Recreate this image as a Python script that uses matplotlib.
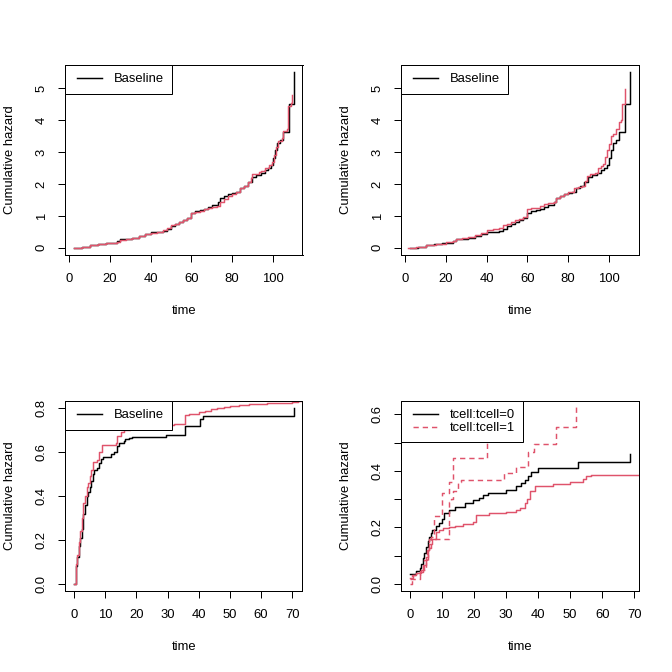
import matplotlib
matplotlib.use('Agg')
import matplotlib.pyplot as plt

plt.rcParams['font.family'] = ['Liberation Sans', 'DejaVu Sans']
plt.rcParams['font.size'] = 9.75

RED = '#DF536B'

# ---- panel 1 / 2: baseline cumulative hazard (black) ----
base_t = [2.3, 6, 10, 14, 18, 21, 23.5, 25, 28, 31, 34, 37, 40, 43, 46, 48, 50, 52,
          54, 56, 58, 60, 62, 64, 66, 68, 70, 73, 74, 76, 78, 80, 82, 84, 86, 88,
          90, 92, 94, 96, 97.5, 99, 100, 101, 102, 103.5, 105, 108, 110.3]
base_h = [0, 0.04, 0.08, 0.11, 0.14, 0.16, 0.20, 0.26, 0.29, 0.31, 0.36, 0.42, 0.48,
          0.51, 0.54, 0.60, 0.68, 0.75, 0.80, 0.86, 0.92, 1.10, 1.15, 1.17, 1.22, 1.27,
          1.33, 1.45, 1.55, 1.62, 1.70, 1.73, 1.75, 1.88, 1.95, 2.05, 2.22, 2.27, 2.35,
          2.43, 2.50, 2.60, 2.80, 3.05, 3.30, 3.37, 3.63, 4.50, 5.50]

# panel 1 red curve
fit1_t = [2.3, 6, 10, 14, 18, 21, 23.5, 25, 28, 31, 34, 37, 40, 43, 46, 48, 50, 52,
          54, 56, 58, 60, 62, 64, 66, 68, 70, 72.5, 74, 76, 78, 80, 82, 84, 86, 88,
          89.5, 90, 93, 94, 96, 98, 99.5, 100.5, 101.5, 102.5, 104.5, 105, 107,
          107.5, 109, 109.6]
fit1_h = [0, 0.04, 0.08, 0.11, 0.14, 0.16, 0.19, 0.25, 0.28, 0.31, 0.36, 0.42, 0.47,
          0.50, 0.55, 0.62, 0.70, 0.76, 0.81, 0.86, 0.92, 1.08, 1.13, 1.16, 1.20, 1.24,
          1.28, 1.30, 1.42, 1.52, 1.62, 1.70, 1.76, 1.87, 1.95, 2.05, 2.20, 2.32, 2.37,
          2.42, 2.50, 2.58, 2.70, 2.90, 3.15, 3.35, 3.45, 3.65, 3.72, 4.45, 4.55, 4.80]

# panel 2 red curve
fit2_t = [1.5, 5, 10, 15, 20, 23.5, 25, 28, 31, 34, 37, 40, 43, 46, 48, 50, 52, 54,
          56, 58, 60, 62, 64, 66, 68, 70, 73, 74, 76, 78, 80, 82, 83, 85, 87, 88.5,
          89.5, 91, 93, 94.5, 96, 97, 98, 99, 100, 101, 102, 103.5, 105, 106, 106.6,
          108.2]
fit2_h = [0, 0.04, 0.09, 0.13, 0.17, 0.20, 0.27, 0.30, 0.33, 0.40, 0.46, 0.55, 0.58,
          0.62, 0.70, 0.76, 0.81, 0.86, 0.91, 0.98, 1.20, 1.24, 1.26, 1.30, 1.36, 1.40,
          1.43, 1.57, 1.62, 1.70, 1.74, 1.76, 1.88, 1.92, 1.95, 2.10, 2.24, 2.30, 2.34,
          2.50, 2.55, 2.62, 2.85, 3.05, 3.25, 3.50, 3.58, 3.72, 3.95, 4.00, 4.50, 4.98]

# ---- panel 3 ----
base3_t = [0, 0.5, 1, 1.5, 2, 2.5, 3, 3.5, 4, 4.5, 5, 5.5, 6, 6.5, 7.5, 8, 8.5, 9.3,
           12, 12.8, 13.7, 14.3, 16, 16.5, 17.5, 18.5, 29.5, 35.7, 40.3, 41.5, 70.5]
base3_h = [0, 0.08, 0.12, 0.17, 0.21, 0.25, 0.32, 0.36, 0.40, 0.42, 0.44, 0.47, 0.50,
           0.52, 0.53, 0.55, 0.57, 0.58, 0.59, 0.60, 0.63, 0.64, 0.65, 0.66, 0.665,
           0.67, 0.68, 0.72, 0.75, 0.765, 0.80]
fit3_t = [0, 0.5, 1, 1.5, 2, 2.5, 3, 3.5, 4, 4.5, 5, 5.5, 6, 7.3, 8, 8.9, 13.3, 13.9,
          15, 16, 18, 20, 23, 26, 29, 32, 35.7, 37, 40, 42, 44, 46, 48, 50, 53, 56,
          62, 70, 72, 80]
fit3_h = [0, 0.09, 0.13, 0.19, 0.24, 0.30, 0.37, 0.40, 0.44, 0.46, 0.49, 0.52, 0.555,
          0.565, 0.60, 0.635, 0.64, 0.675, 0.69, 0.70, 0.705, 0.71, 0.715, 0.72, 0.725,
          0.73, 0.77, 0.775, 0.785, 0.79, 0.795, 0.80, 0.805, 0.81, 0.815, 0.82, 0.825,
          0.828, 0.835, 0.84]

# ---- panel 4: tcell strata ----
t0_t = [0, 2, 3, 3.5, 4, 4.5, 5, 5.5, 6, 6.5, 7, 8, 9, 10, 10.7, 12.3, 13.9, 17,
        19.6, 21.5, 22.7, 24.3, 30, 33, 34.7, 35.8, 36.8, 37.9, 40, 52.5, 68.6]
t0_h = [0.035, 0.044, 0.055, 0.07, 0.09, 0.11, 0.13, 0.15, 0.167, 0.18, 0.19, 0.205,
        0.215, 0.23, 0.25, 0.26, 0.27, 0.285, 0.296, 0.305, 0.314, 0.322, 0.333, 0.345,
        0.355, 0.367, 0.38, 0.396, 0.41, 0.43, 0.46]
t0_fit_t = [0, 1, 2, 3.4, 4, 5, 5.5, 6, 7, 8, 9, 10.2, 12.3, 14, 16.5, 19.6, 20.7,
            24.8, 30, 33, 34.2, 35.8, 36.5, 37.3, 38.9, 44.6, 49.9, 54, 55, 56.6, 75]
t0_fit_h = [0.02, 0.03, 0.038, 0.05, 0.065, 0.096, 0.12, 0.14, 0.16, 0.185, 0.19,
            0.196, 0.20, 0.205, 0.21, 0.22, 0.244, 0.25, 0.255, 0.26, 0.267, 0.285,
            0.30, 0.33, 0.346, 0.353, 0.361, 0.37, 0.38, 0.386, 0.388]
t1_t = [0, 3, 4, 5, 5.5, 6, 12, 12.8, 13.4, 15, 16, 29.3, 33, 36.8, 38.8, 45.5, 51.8]
t1_h = [0.018, 0.04, 0.05, 0.08, 0.12, 0.16, 0.29, 0.30, 0.33, 0.36, 0.367, 0.393,
        0.415, 0.465, 0.495, 0.555, 0.632]
t1_fit_t = [0, 0.5, 3, 4.5, 5.2, 6.6, 7.6, 10.1, 12.3, 13.3, 24, 28, 32]
t1_fit_h = [0, 0.03, 0.045, 0.085, 0.125, 0.167, 0.24, 0.32, 0.36, 0.444, 0.52, 0.60,
            0.70]

xticks_top = [0, 20, 40, 60, 80, 100]
yticks_top = [0, 1, 2, 3, 4, 5]
ylabels_top = ['0', '1', '2', '3', '4', '5']
xticks_bot = [0, 10, 20, 30, 40, 50, 60, 70]
yticks_bl = [0.0, 0.2, 0.4, 0.6, 0.8]
ylabels_bl = ['0.0', '0.2', '0.4', '0.6', '0.8']
yticks_br = [0.0, 0.1, 0.2, 0.3, 0.4, 0.5, 0.6]
ylabels_br = ['0.0', '', '0.2', '', '0.4', '', '0.6']


def rlim(lo, hi):
    # R style 4% range extension
    d = (hi - lo) * 0.04
    return lo - d, hi + d


def setup(ax, xlim, ylim, xticks, yticks, ylabels):
    ax.set_xlim(*xlim)
    ax.set_ylim(*ylim)
    ax.set_xticks(xticks)
    ax.set_xticklabels([str(x) for x in xticks])
    ax.set_yticks(yticks)
    ax.set_yticklabels(ylabels, rotation=90, va='center')
    ax.tick_params(axis='both', direction='out', length=5, width=0.75, labelsize=9.75)
    ax.tick_params(axis='x', pad=9)
    ax.tick_params(axis='y', pad=8.2)
    for s in ax.spines.values():
        s.set_linewidth(0.75)
    ax.set_xlabel('time')
    ax.set_ylabel('Cumulative hazard')
    ax.xaxis.set_label_coords(0.5, -56 / 189.5)
    ax.xaxis.label.set_va('center')
    ax.yaxis.set_label_coords(-55 / 237.2, 0.5)
    ax.yaxis.label.set_va('center')


def add_legend(ax):
    leg = ax.legend(loc='upper left', borderaxespad=0, fancybox=False, framealpha=1,
                    edgecolor='black', handlelength=1.93, handletextpad=1.15,
                    borderpad=0.62, labelspacing=0.05, fontsize=9.75)
    leg.get_frame().set_linewidth(0.75)
    # R draws the key line a bit further in from the box edge
    for ln in leg.get_lines():
        ln.set_xdata([x + 3 for x in ln.get_xdata()])
    return leg


fig = plt.figure(figsize=(7, 7), dpi=96)
W = 672.0
pos = [(65.3, 65.3), (401.3, 65.3), (65.3, 401.3), (401.3, 401.3)]
axes = [fig.add_axes([x / W, 1 - (y + 189.5) / W, 237.2 / W, 189.5 / W]) for x, y in pos]

for ax, fit_t, fit_h in [(axes[0], fit1_t, fit1_h), (axes[1], fit2_t, fit2_h)]:
    ax.step(base_t, base_h, where='post', color='black', lw=1.1, label='Baseline')
    ax.step(fit_t, fit_h, where='post', color=RED, lw=1.1)
    setup(ax, rlim(min(base_t), max(base_t)), rlim(0, max(base_h)),
          xticks_top, yticks_top, ylabels_top)
    add_legend(ax)

ax = axes[2]
ax.step(base3_t, base3_h, where='post', color='black', lw=1.1, label='Baseline')
ax.step(fit3_t, fit3_h, where='post', color=RED, lw=1.1)
setup(ax, rlim(0, max(base3_t)), rlim(0, max(base3_h)), xticks_bot, yticks_bl, ylabels_bl)
add_legend(ax)

ax = axes[3]
ax.step(t0_t, t0_h, where='post', color='black', lw=1.1, label='tcell:tcell=0')
ax.step(t1_t, t1_h, where='post', color=RED, lw=1.1, dashes=(3.6, 2.7), label='tcell:tcell=1')
ax.step(t0_fit_t, t0_fit_h, where='post', color=RED, lw=1.1)
ax.step(t1_fit_t, t1_fit_h, where='post', color=RED, lw=1.1, dashes=(3.6, 2.7))
setup(ax, rlim(0, max(t0_t)), rlim(0, 0.621), xticks_bot, yticks_br, ylabels_br)
add_legend(ax)

fig.savefig('out.png', dpi=96)
